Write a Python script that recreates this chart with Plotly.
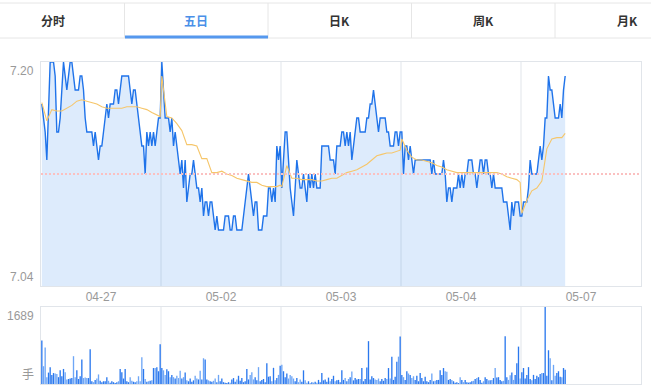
import plotly.graph_objects as go

# ---------------- data ----------------
dates = ["04-27", "05-02", "05-03", "05-04", "05-07"]
tabs = ["分时", "五日", "日K", "周K", "月K"]
selected_tab = "五日"
prev_close = 7.12
price_axis = [7.04, 7.20]
volume_unit = "手"
slots_per_day = 72     # sampling slots per trading day
avg_step = 3           # avg line sampled every 3 slots

price_d1 = [7.17, 7.16, 7.15, 7.13, 7.17, 7.20, 7.20, 7.20, 7.19, 7.15,
            7.15, 7.16, 7.18, 7.20, 7.19, 7.18, 7.19, 7.20, 7.20, 7.19,
            7.18, 7.18, 7.18, 7.19, 7.19, 7.18, 7.16, 7.15, 7.15, 7.15,
            7.15, 7.14, 7.15, 7.14, 7.13, 7.14, 7.14, 7.15, 7.16, 7.17,
            7.16, 7.17, 7.17, 7.17, 7.18, 7.18, 7.17, 7.18, 7.19, 7.19,
            7.19, 7.19, 7.19, 7.18, 7.17, 7.18, 7.18, 7.17, 7.16, 7.15,
            7.14, 7.14, 7.12, 7.15, 7.14, 7.15, 7.14, 7.15, 7.14, 7.15,
            7.16, 7.16]
price_d2 = [7.20, 7.18, 7.16, 7.16, 7.16, 7.15, 7.16, 7.14, 7.15, 7.14,
            7.13, 7.12, 7.13, 7.11, 7.13, 7.10, 7.11, 7.12, 7.12, 7.13,
            7.12, 7.11, 7.11, 7.10, 7.11, 7.09, 7.10, 7.10, 7.09, 7.10,
            7.10, 7.09, 7.08, 7.09, 7.08, 7.08, 7.08, 7.08, 7.09, 7.09,
            7.09, 7.08, 7.08, 7.09, 7.09, 7.08, 7.08, 7.08, 7.08, 7.09,
            7.10, 7.11, 7.12, 7.11, 7.10, 7.09, 7.10, 7.10, 7.08, 7.08,
            7.08, 7.09, 7.09, 7.09, 7.11, 7.11, 7.10, 7.11, 7.10, 7.14,
            7.13, 7.14]
price_d3 = [7.11, 7.13, 7.15, 7.15, 7.13, 7.11, 7.10, 7.09, 7.11, 7.13,
            7.12, 7.11, 7.11, 7.12, 7.11, 7.10, 7.12, 7.11, 7.12, 7.11,
            7.12, 7.11, 7.11, 7.11, 7.14, 7.14, 7.14, 7.14, 7.14, 7.13,
            7.13, 7.13, 7.12, 7.14, 7.14, 7.14, 7.15, 7.15, 7.14, 7.15,
            7.14, 7.15, 7.13, 7.14, 7.15, 7.16, 7.16, 7.15, 7.15, 7.15,
            7.15, 7.16, 7.16, 7.17, 7.17, 7.18, 7.17, 7.16, 7.15, 7.16,
            7.16, 7.16, 7.16, 7.15, 7.15, 7.14, 7.14, 7.14, 7.15, 7.15,
            7.14, 7.15]
price_d4 = [7.15, 7.12, 7.14, 7.14, 7.13, 7.14, 7.13, 7.12, 7.13, 7.13,
            7.13, 7.13, 7.13, 7.13, 7.13, 7.13, 7.13, 7.13, 7.12, 7.13,
            7.12, 7.12, 7.12, 7.12, 7.12, 7.13, 7.12, 7.10, 7.11, 7.11,
            7.10, 7.11, 7.11, 7.11, 7.12, 7.11, 7.12, 7.11, 7.12, 7.12,
            7.13, 7.13, 7.13, 7.12, 7.12, 7.11, 7.12, 7.13, 7.13, 7.12,
            7.13, 7.13, 7.12, 7.12, 7.11, 7.12, 7.11, 7.11, 7.11, 7.11,
            7.11, 7.10, 7.10, 7.10, 7.09, 7.08, 7.10, 7.09, 7.10, 7.10,
            7.10, 7.09]
price_d5 = [7.09, 7.10, 7.10, 7.10, 7.11, 7.13, 7.12, 7.12, 7.12, 7.12,
            7.13, 7.14, 7.13, 7.14, 7.16, 7.16, 7.19, 7.18, 7.18, 7.17,
            7.16, 7.16, 7.16, 7.17, 7.16, 7.18, 7.19]

avg_d1 = [7.171, 7.158, 7.166, 7.165, 7.165, 7.167, 7.169, 7.172, 7.173, 7.172,
          7.171, 7.170, 7.168, 7.167, 7.167, 7.167, 7.167, 7.168, 7.168, 7.168,
          7.167, 7.166, 7.164, 7.162, 7.161]
avg_d2 = [7.190, 7.161, 7.160, 7.156, 7.151, 7.141, 7.141, 7.140, 7.131, 7.131,
          7.121, 7.121, 7.122, 7.120, 7.119, 7.117, 7.116, 7.115, 7.114, 7.114,
          7.112, 7.111, 7.111, 7.111, 7.112]
avg_d3 = [7.111, 7.126, 7.117, 7.117, 7.116, 7.116, 7.116, 7.115, 7.115, 7.116,
          7.117, 7.117, 7.119, 7.121, 7.122, 7.123, 7.125, 7.127, 7.130, 7.133,
          7.134, 7.135, 7.135, 7.136, 7.137]
avg_d4 = [7.145, 7.137, 7.132, 7.130, 7.130, 7.129, 7.128, 7.126, 7.125, 7.123,
          7.122, 7.121, 7.121, 7.121, 7.121, 7.121, 7.121, 7.121, 7.121, 7.121,
          7.120, 7.118, 7.117, 7.116, 7.114]
avg_d5 = [7.092, 7.101, 7.108, 7.110, 7.115, 7.138, 7.145, 7.146, 7.146, 7.149]

vol_d1 = [955, 390, 800, 150, 250, 370, 200, 240, 230, 220,
          150, 300, 170, 330, 260, 100, 110, 120, 130, 610,
          150, 300, 110, 170, 540, 130, 140, 130, 130, 760,
          60, 40, 90, 120, 210, 70, 40, 60, 60, 150,
          70, 30, 60, 40, 20, 40, 60, 330, 260, 120,
          330, 60, 40, 150, 70, 50, 40, 60, 170, 60,
          585, 330, 110, 50, 60, 70, 80, 350, 350, 370,
          280, 870]
vol_d2 = [350, 300, 200, 325, 280, 150, 200, 150, 120, 180,
          130, 290, 120, 150, 250, 80, 60, 120, 50, 80,
          180, 120, 100, 290, 100, 565, 540, 100, 80, 60,
          50, 70, 120, 40, 200, 60, 120, 40, 30, 20,
          40, 30, 100, 130, 50, 100, 180, 70, 130, 40,
          60, 330, 100, 200, 260, 100, 150, 80, 370, 60,
          90, 110, 40, 455, 160, 170, 60, 355, 80, 130,
          200, 400]
vol_d3 = [420, 280, 150, 230, 120, 200, 170, 120, 60, 130,
          40, 100, 50, 300, 80, 30, 60, 20, 40, 30,
          50, 30, 90, 40, 240, 80, 100, 50, 140, 60,
          110, 180, 60, 80, 90, 40, 300, 90, 130, 60,
          110, 150, 275, 80, 130, 100, 110, 110, 350, 60,
          110, 360, 940, 100, 170, 130, 100, 90, 120, 60,
          110, 70, 130, 110, 350, 120, 600, 90, 160, 490,
          600, 1040]
vol_d4 = [200, 150, 90, 280, 230, 200, 130, 170, 90, 180,
          60, 240, 130, 60, 160, 60, 40, 90, 230, 60,
          70, 90, 90, 300, 200, 350, 280, 270, 90, 110,
          90, 60, 30, 40, 20, 150, 90, 40, 90, 40,
          30, 40, 60, 70, 110, 130, 150, 90, 30, 60,
          150, 110, 80, 80, 90, 130, 350, 140, 150, 90,
          60, 70, 1045, 150, 90, 190, 250, 90, 200, 455,
          820, 120]
vol_d5 = [260, 350, 120, 200, 370, 110, 80, 200, 110, 180,
          150, 220, 240, 240, 1689, 180, 740, 565, 80, 420,
          180, 240, 280, 160, 150, 350, 310]

prices = [price_d1, price_d2, price_d3, price_d4, price_d5]
avgs = [avg_d1, avg_d2, avg_d3, avg_d4, avg_d5]
vols = [vol_d1, vol_d2, vol_d3, vol_d4, vol_d5]

# ---------------- build series ----------------
N = slots_per_day
px, py, vx, vy, vc = [], [], [], [], []
ax, ay = [], []
last = None
for d in range(len(dates)):
    n = len(prices[d])
    for i, v in enumerate(prices[d]):
        px.append(d * N + i)
        py.append(v)
        up = last is None or v >= last
        vc.append("#2a78ee" if up else "#6ea6f6")
        last = v
    for i, v in enumerate(vols[d]):
        vx.append(d * N + i)
        vy.append(v)
    for k, v in enumerate(avgs[d]):
        ax.append(d * N + min(k * avg_step, n - 1))
        ay.append(v)

vmax = max(vy)
xr = [-0.5, len(dates) * N - 0.5]

# pixel -> paper helpers for layout decoration
L, R, T, B = 41, 641, 62, 384
W, H = R - L, B - T
def fx(p):
    return (p - L) / W
def fy(p):
    return (B - p) / H

main_dom = [fy(286), 1.0]
vol_dom = [0.0, fy(307)]

fig = go.Figure()
fig.add_trace(go.Scatter(x=px, y=py, mode="lines", line=dict(color="#1f73ea", width=1.4),
                         fill="tozeroy", fillcolor="rgba(25,118,235,0.15)",
                         xaxis="x", yaxis="y", hoverinfo="skip"))
fig.add_trace(go.Scatter(x=ax, y=ay, mode="lines", line=dict(color="#f6c66a", width=1.1),
                         xaxis="x", yaxis="y", hoverinfo="skip"))
fig.add_trace(go.Bar(x=vx, y=vy, marker=dict(color=vc, line=dict(width=0)),
                     xaxis="x2", yaxis="y2", hoverinfo="skip"))

grid = "#e1e5ea"
font_num = "Liberation Sans, Arial, sans-serif"
shapes = []
# day dividers
for d in range(1, len(dates)):
    xb = d * N - 0.5
    shapes.append(dict(type="line", xref="x", yref="y domain", x0=xb, x1=xb, y0=0, y1=1,
                       line=dict(color=grid, width=1), layer="below"))
    shapes.append(dict(type="line", xref="x2", yref="y2 domain", x0=xb, x1=xb, y0=0, y1=1,
                       line=dict(color=grid, width=1), layer="below"))
# previous close dotted line
shapes.append(dict(type="line", xref="x domain", yref="y", x0=0, x1=1, y0=prev_close, y1=prev_close,
                   line=dict(color="#fbc0c0", width=2, dash="2px,2px"), layer="above"))

# tab bar
tab_top, tab_bot = 3, 38
tab_edges = [124.5, 268, 411.5, 555]
tab_centers = [53, 196, 339, 483, 627]
shapes.append(dict(type="line", xref="paper", yref="paper", x0=fx(0), x1=fx(651),
                   y0=fy(tab_top), y1=fy(tab_top), line=dict(color="#e6e6e6", width=1)))
shapes.append(dict(type="line", xref="paper", yref="paper", x0=fx(0), x1=fx(651),
                   y0=fy(tab_bot), y1=fy(tab_bot), line=dict(color="#e6e6e6", width=1)))
for e in tab_edges:
    shapes.append(dict(type="line", xref="paper", yref="paper", x0=fx(e), x1=fx(e),
                       y0=fy(tab_top), y1=fy(tab_bot), line=dict(color="#e6e6e6", width=1)))
sel = tabs.index(selected_tab)
shapes.append(dict(type="rect", xref="paper", yref="paper", x0=fx(tab_edges[0] + 0.5), x1=fx(tab_edges[1]),
                   y0=fy(38.5), y1=fy(35.5), line=dict(width=0), fillcolor="#5598ee"))

annotations = []
for i, t in enumerate(tabs):
    annotations.append(dict(text="<b>%s</b>" % t, xref="paper", yref="paper", x=fx(tab_centers[i]), y=fy(20),
                            showarrow=False, xanchor="center", yanchor="middle",
                            font=dict(family="Noto Sans CJK SC", size=12,
                                      color="#4a90e8" if t == selected_tab else "#333333")))
# price labels
annotations.append(dict(text="%.2f" % price_axis[1], xref="paper", yref="y", x=fx(36), y=price_axis[1],
                        xanchor="right", yanchor="top", showarrow=False,
                        font=dict(family=font_num, size=12, color="#999999")))
annotations.append(dict(text="%.2f" % price_axis[0], xref="paper", yref="y", x=fx(36), y=price_axis[0],
                        xanchor="right", yanchor="bottom", showarrow=False,
                        font=dict(family=font_num, size=12, color="#999999")))
annotations.append(dict(text=str(vmax), xref="paper", yref="y2", x=fx(36), y=vmax,
                        xanchor="right", yanchor="top", showarrow=False,
                        font=dict(family=font_num, size=12, color="#999999")))
annotations.append(dict(text=volume_unit, xref="paper", yref="y2", x=fx(36), y=0,
                        xanchor="right", yanchor="bottom", showarrow=False,
                        font=dict(family="Noto Sans CJK SC", size=12, color="#999999")))

fig.update_layout(
    width=651, height=390,
    margin=dict(l=L, r=651 - R, t=T, b=390 - B),
    paper_bgcolor="white", plot_bgcolor="white",
    showlegend=False, bargap=0.2,
    xaxis=dict(domain=[0, 1], anchor="y", range=xr, showgrid=False, zeroline=False,
               showline=True, mirror=True, linecolor=grid, linewidth=1,
               tickmode="array", tickvals=[d * N + (N - 1) / 2 for d in range(len(dates))],
               ticktext=dates, ticks="", tickfont=dict(family=font_num, size=12, color="#999999")),
    yaxis=dict(domain=main_dom, anchor="x", range=price_axis, showgrid=False, zeroline=False,
               showline=True, mirror=True, linecolor=grid, linewidth=1, showticklabels=False, ticks=""),
    xaxis2=dict(domain=[0, 1], anchor="y2", range=xr, matches="x", showgrid=False, zeroline=False,
                showline=True, mirror=True, linecolor=grid, linewidth=1, showticklabels=False, ticks=""),
    yaxis2=dict(domain=vol_dom, anchor="x2", range=[0, vmax], showgrid=False, zeroline=False,
                showline=True, mirror=True, linecolor=grid, linewidth=1, showticklabels=False, ticks=""),
    shapes=shapes, annotations=annotations,
)

fig.write_html("out.html", include_plotlyjs=True,
               config={"displayModeBar": False, "staticPlot": True},
               post_script="document.body.style.margin='0';document.body.style.padding='0';")
